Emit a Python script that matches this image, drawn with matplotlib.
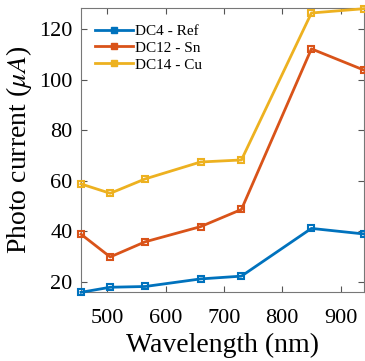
import matplotlib
matplotlib.use("Agg")
import matplotlib.pyplot as plt
from matplotlib.lines import Line2D

wavelength = [455, 505, 565, 660, 730, 850, 940]
dc4_ref = [15.9, 17.9, 18.2, 21.2, 22.3, 41.2, 39.0]
dc12_sn = [38.9, 29.9, 35.9, 41.9, 48.7, 112.3, 103.9]
dc14_cu = [58.8, 55.1, 60.8, 67.5, 68.3, 126.5, 128.2]

labels = ["DC4 - Ref", "DC12 - Sn", "DC14 - Cu"]
colors = ["#0072BD", "#D95319", "#EDB120"]

plt.rcParams["font.family"] = ["Liberation Serif", "DejaVu Serif"]
plt.rcParams["mathtext.fontset"] = "stix"

fig = plt.figure(figsize=(3.65, 3.61), dpi=100)
ax = fig.add_axes([0.222, 0.191, 0.775, 0.787])

for ys, c in zip([dc4_ref, dc12_sn, dc14_cu], colors):
    ax.plot(wavelength, ys, color=c, lw=2, marker="s", ms=5,
            mfc="none", mew=1.5, clip_on=False, zorder=3)

ax.set_xlim(455, 940)
ax.set_ylim(16, 128.5)
ax.set_xticks([500, 600, 700, 800, 900])
ax.set_yticks([20, 40, 60, 80, 100, 120])
ax.tick_params(direction="in", top=True, right=True, length=4,
               labelsize=16, color="#555555")
ax.tick_params(axis="x", pad=12)
ax.tick_params(axis="y", pad=6)
for sp in ax.spines.values():
    sp.set_color("#777777")
    sp.set_linewidth(0.8)

ax.set_xlabel("Wavelength (nm)", fontsize=20, labelpad=4)
ax.set_ylabel(r"Photo current ($\mu A$)", fontsize=20, labelpad=4)

handles = [Line2D([], [], color=c, lw=2, marker="s", ms=5, mfc=c, mec=c)
           for c in colors]
ax.legend(handles, labels, loc="upper left", frameon=False, fontsize=11,
          handlelength=2.5, handletextpad=0.15, labelspacing=0.2,
          borderaxespad=0.3, bbox_to_anchor=(0.01, 0.98))

fig.savefig("out.png", dpi=100)
